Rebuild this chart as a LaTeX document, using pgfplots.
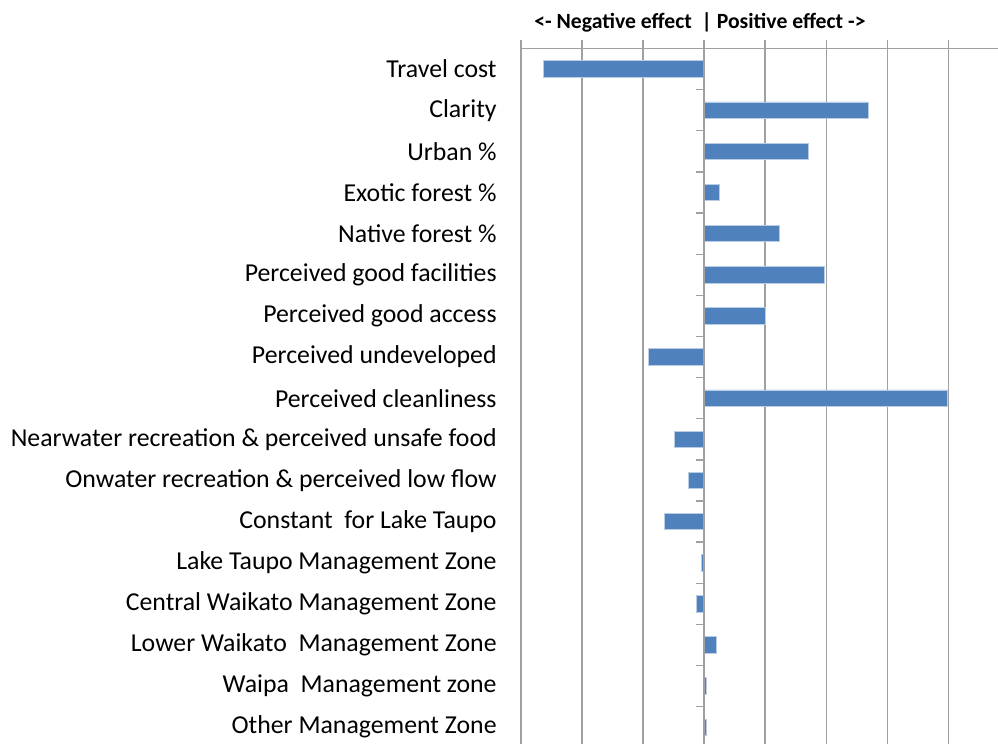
\documentclass[border=0pt]{standalone}
\usepackage{pgfplots}
\pgfplotsset{compat=1.18}
\usepackage{fontspec}
\setmainfont{Carlito}
\definecolor{barblue}{RGB}{79,129,189}
\definecolor{baredge}{RGB}{185,205,229}
\definecolor{gridgray}{RGB}{160,160,160}
\begin{document}
\begin{tikzpicture}
\path[use as bounding box] (0pt,-372pt) rectangle (499pt,0pt);
\clip (0pt,-372pt) rectangle (499pt,0pt);
\begin{axis}[
  at={(260.5pt,-24.25pt)}, anchor=north west,
  scale only axis, width=244.16pt, height=349.65pt,
  xmin=-3, xmax=5, ymin=-0.5, ymax=16.5,
  enlargelimits=false,
  axis x line*=top, axis y line*=left,
  axis line style={draw=gridgray, line width=0.65pt},
  xtick={-3,-2,-1,0,1,2,3,4,5}, xticklabels={},
  xmajorgrids, grid style={draw=gridgray, line width=0.65pt},
  tick align=outside, major tick length=4pt,
  xtick style={draw=gridgray, line width=0.65pt},
  ytick={0,1,2,3,4,5,6,7,8,9,10,11,12,13,14,15,16},
  yticklabels={Other Management Zone,Waipa\ \ Management zone,Lower Waikato\ \ Management Zone,Central Waikato Management Zone,Lake Taupo Management Zone,Constant\ \ for Lake Taupo,Onwater recreation \& perceived low flow,Nearwater recreation \& perceived unsafe food,Perceived cleanliness,Perceived undeveloped,Perceived good access,Perceived good facilities,Native forest \%,Exotic forest \%,Urban \%,Clarity,Travel cost},
  ytick style={draw=none},
  yticklabel style={font=\fontsize{12.9}{15}\selectfont, inner sep=0pt, xshift=-8pt, text=black},
  xbar, bar width=0.4,
]
\addplot[fill=barblue, draw=baredge, line width=0.4pt] coordinates {
(-2.63,16) (2.69,15) (1.71,14) (0.25,13) (1.23,12) (1.97,11) (1.0,10) (-0.91,9)
(3.99,8) (-0.49,7) (-0.25,6) (-0.65,5) (-0.045,4) (-0.12,3) (0.2,2) (0.044,1) (0.044,0)};
\draw[gridgray, line width=0.65pt] (axis cs:0,-0.5) -- (axis cs:0,16.5);
\pgfplotsinvokeforeach{0.5,1.5,2.5,3.5,4.5,5.5,6.5,7.5,8.5,9.5,10.5,11.5,12.5,13.5,14.5,15.5}{
  \draw[gridgray, line width=0.65pt] (axis cs:0,#1) -- (axis cs:-0.131,#1);
}
\end{axis}
\node[anchor=base, inner sep=0pt, font=\bfseries\fontsize{10.85}{12}\selectfont] at (350pt,-14.15pt) {<- Negative effect \ | Positive effect ->};
\end{tikzpicture}
\end{document}
